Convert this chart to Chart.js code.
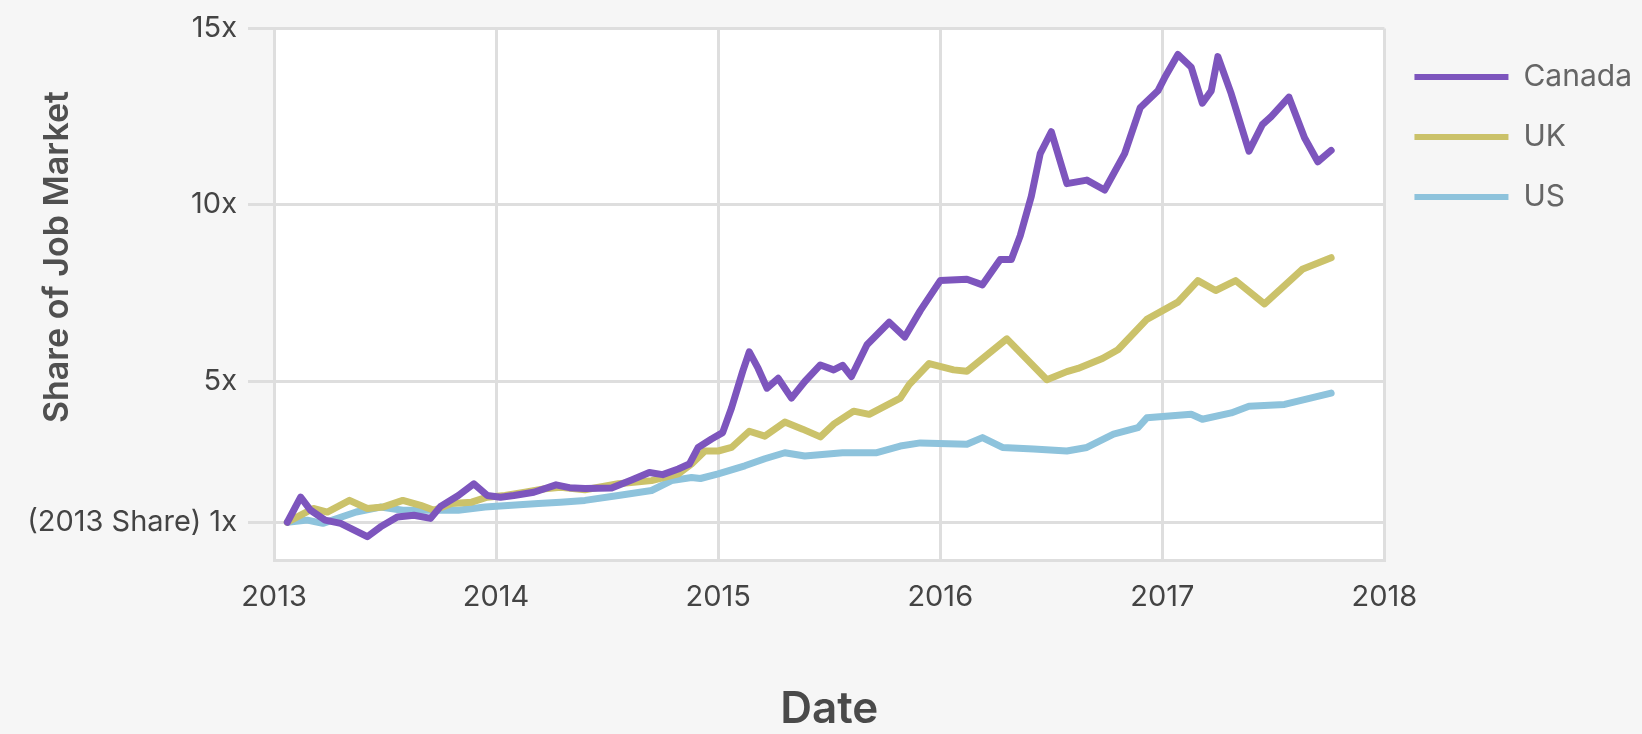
<!DOCTYPE html>
<html>
<head>
<meta charset="utf-8">
<script src="https://cdn.jsdelivr.net/npm/chart.js@4.4.1/dist/chart.umd.min.js"></script>
<style>
  html, body { margin: 0; padding: 0; background: #f6f6f6; }
  canvas { display: block; }
</style>
</head>
<body>
<canvas id="chart" width="1642" height="734"></canvas>
<script>
// values, x in decimal years
const canadaYears = [2013.06, 2013.12, 2013.165, 2013.23, 2013.30, 2013.42, 2013.48, 2013.555, 2013.63, 2013.705,
  2013.75, 2013.83, 2013.90, 2013.96, 2014.02, 2014.08, 2014.17, 2014.27, 2014.33, 2014.40, 2014.52, 2014.61,
  2014.69, 2014.75, 2014.82, 2014.87, 2014.91, 2014.97, 2015.02, 2015.06, 2015.11, 2015.14, 2015.18, 2015.22,
  2015.27, 2015.33, 2015.39, 2015.46, 2015.52, 2015.56, 2015.60, 2015.67, 2015.77, 2015.84, 2015.91, 2016.00,
  2016.12, 2016.19, 2016.27, 2016.32, 2016.36, 2016.41, 2016.45, 2016.50, 2016.57, 2016.66, 2016.74, 2016.83,
  2016.90, 2016.98, 2017.01, 2017.07, 2017.13, 2017.18, 2017.22, 2017.25, 2017.31, 2017.39, 2017.45, 2017.49,
  2017.57, 2017.64, 2017.70, 2017.76];
const canadaValues = [1.0, 1.71, 1.34, 1.06, 0.97, 0.59, 0.87, 1.15, 1.2, 1.11,
  1.45, 1.76, 2.09, 1.76, 1.71, 1.76, 1.85, 2.06, 1.98, 1.96, 1.97, 2.2,
  2.41, 2.35, 2.51, 2.65, 3.12, 3.36, 3.54, 4.24, 5.27, 5.83, 5.36, 4.80,
  5.08, 4.52, 4.99, 5.46, 5.32, 5.45, 5.13, 6.03, 6.67, 6.25, 7.0, 7.85,
  7.89, 7.73, 8.45, 8.45, 9.12, 10.24, 11.45, 12.07, 10.6, 10.7, 10.42, 11.45,
  12.75, 13.23, 13.6, 14.26, 13.9, 12.88, 13.23, 14.2, 13.15, 11.52, 12.27, 12.5,
  13.05, 11.9, 11.22, 11.54];

const ukYears = [2013.06, 2013.12, 2013.177, 2013.24, 2013.34, 2013.42, 2013.49, 2013.58, 2013.66, 2013.72,
  2013.80, 2013.89, 2013.96, 2014.04, 2014.13, 2014.22, 2014.29, 2014.40, 2014.55, 2014.70, 2014.82, 2014.88,
  2014.94, 2015.00, 2015.06, 2015.14, 2015.21, 2015.30, 2015.38, 2015.46, 2015.52, 2015.61, 2015.68, 2015.82,
  2015.86, 2015.95, 2016.06, 2016.12, 2016.30, 2016.48, 2016.57, 2016.62, 2016.73, 2016.80, 2016.93, 2017.07,
  2017.16, 2017.24, 2017.33, 2017.46, 2017.63, 2017.76];
const ukValues = [1.0, 1.2, 1.39, 1.29, 1.62, 1.39, 1.43, 1.62, 1.48, 1.34,
  1.53, 1.57, 1.71, 1.76, 1.85, 1.95, 1.99, 1.92, 2.09, 2.18, 2.37, 2.65,
  3.02, 3.02, 3.12, 3.58, 3.44, 3.84, 3.64, 3.42, 3.78, 4.15, 4.06, 4.52,
  4.9, 5.5, 5.32, 5.28, 6.2, 5.04, 5.27, 5.36, 5.64, 5.89, 6.75, 7.24,
  7.85, 7.57, 7.85, 7.19, 8.17, 8.5];

const usYears = [2013.06, 2013.15, 2013.22, 2013.37, 2013.48, 2013.58, 2013.71, 2013.83, 2013.95, 2014.07,
  2014.19, 2014.29, 2014.40, 2014.55, 2014.70, 2014.79, 2014.88, 2014.92, 2015.00, 2015.12, 2015.21, 2015.30,
  2015.39, 2015.56, 2015.71, 2015.82, 2015.91, 2016.12, 2016.19, 2016.28, 2016.42, 2016.57, 2016.66, 2016.78,
  2016.89, 2016.93, 2017.13, 2017.18, 2017.31, 2017.39, 2017.55, 2017.76];
const usValues = [1.0, 1.06, 0.97, 1.29, 1.43, 1.34, 1.34, 1.34, 1.43, 1.48,
  1.53, 1.57, 1.62, 1.76, 1.90, 2.18, 2.27, 2.24, 2.37, 2.6, 2.8, 2.97,
  2.88, 2.97, 2.97, 3.16, 3.25, 3.21, 3.40, 3.12, 3.08, 3.02, 3.12, 3.50,
  3.68, 3.96, 4.06, 3.92, 4.1, 4.29, 4.34, 4.66];

const seriesNames = ['Canada', 'UK', 'US'];
const seriesColors = ['#7d55bd', '#cbc26a', '#8ec3dc'];
const xTicks = [2013, 2014, 2015, 2016, 2017, 2018];
const yTicks = [1, 5, 10, 15];
const yTickLabels = ['(2013 Share) 1x', '5x', '10x', '15x'];
const X_TITLE = 'Date';
const Y_TITLE = 'Share of Job Market';

const FONT = 'Inter, "Open Sans", sans-serif';
const GRID = '#dedede';

function points(xs, ys) {
  return xs.map((x, i) => ({ x, y: ys[i] }));
}

const plotBackground = {
  id: 'plotBackground',
  beforeDraw(chart) {
    const { ctx, chartArea: a } = chart;
    ctx.save();
    ctx.fillStyle = '#ffffff';
    ctx.fillRect(a.left, a.top, a.right - a.left, a.bottom - a.top);
    ctx.restore();
  },
};

// y title sits a bit above the plot's middle in the reference
const yTitle = {
  id: 'yTitle',
  afterDraw(chart) {
    const { ctx } = chart;
    ctx.save();
    ctx.translate(58, 257);
    ctx.rotate(-Math.PI / 2);
    ctx.font = '600 34px ' + FONT;
    ctx.fillStyle = '#505050';
    ctx.textAlign = 'center';
    ctx.textBaseline = 'middle';
    ctx.fillText(Y_TITLE, 0, 0);
    ctx.restore();
  },
};

const allData = [points(canadaYears, canadaValues), points(ukYears, ukValues), points(usYears, usValues)];

new Chart(document.getElementById('chart'), {
  type: 'line',
  data: {
    datasets: seriesNames.map((name, i) => ({
      label: name,
      data: allData[i],
      borderColor: seriesColors[i],
      backgroundColor: seriesColors[i],
      borderWidth: 7,
      pointRadius: 0,
      tension: 0,
      borderJoinStyle: 'round',
      borderCapStyle: 'round',
    })),
  },
  options: {
    responsive: false,
    animation: false,
    layout: { padding: { top: 25, left: 0, right: 0, bottom: 0 } },
    plugins: {
      tooltip: { enabled: false },
      legend: {
        position: 'right',
        align: 'start',
        // empty title only pushes the entries down a little
        title: { display: true, text: '', font: { size: 1, lineHeight: 1 }, padding: { top: 3, bottom: 3 } },
        labels: {
          boxWidth: 94,
          boxHeight: 6,
          padding: 30,
          color: '#444',
          font: { family: FONT, size: 30 },
          generateLabels(chart) {
            return chart.data.datasets.map((ds, i) => ({
              text: ds.label,
              fillStyle: ds.borderColor,
              strokeStyle: ds.borderColor,
              lineWidth: 0,
              datasetIndex: i,
              hidden: false,
            }));
          },
        },
      },
    },
    scales: {
      x: {
        type: 'linear',
        min: 2013,
        max: 2018,
        afterBuildTicks(scale) { scale.ticks = xTicks.map((v) => ({ value: v })); },
        afterFit(scale) { scale.height = 734 - 560; },
        ticks: {
          color: '#444',
          font: { family: FONT, size: 29 },
          padding: 20,
          maxRotation: 0,
          callback: (v) => String(v),
        },
        grid: { color: GRID, lineWidth: 3, drawTicks: false },
        border: { display: true, color: GRID, width: 3 },
        title: {
          display: true,
          text: X_TITLE,
          color: '#4a4a4a',
          font: { family: FONT, size: 44, weight: '600', lineHeight: 1.1 },
          padding: { top: 0, bottom: 0 },
        },
      },
      y: {
        type: 'linear',
        min: -0.07,
        max: 15,
        afterBuildTicks(scale) { scale.ticks = yTicks.map((v) => ({ value: v })); },
        afterFit(scale) { scale.width = 274; },
        ticks: {
          color: '#444',
          font: { family: FONT, size: 29 },
          padding: 11,
          callback: (v) => yTickLabels[yTicks.indexOf(v)],
        },
        grid: { color: GRID, lineWidth: 3, tickLength: 26 },
        border: { display: true, color: GRID, width: 3 },
      },
    },
  },
  plugins: [plotBackground, yTitle],
});
</script>
</body>
</html>
